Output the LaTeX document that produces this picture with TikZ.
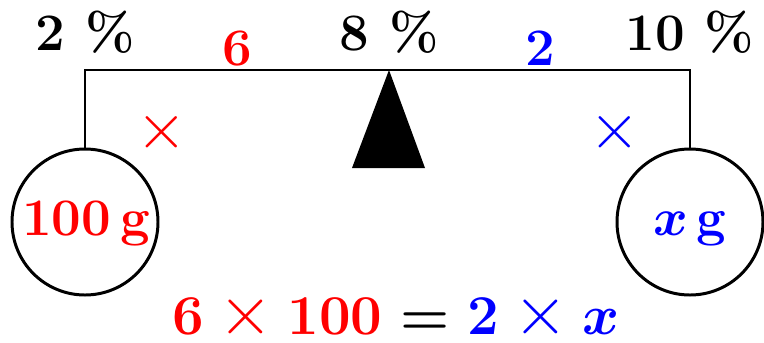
\RequirePackage{fix-cm}
\documentclass[tikz,border=0pt]{standalone}
\usepackage{amsmath, amssymb}
\usepackage{xcolor}
\usepackage{tikz}
\usetikzlibrary{arrows.meta, positioning, calc}

\newcommand{\bigtimes}{\mathbin{\mbox{\fontsize{40}{44}\selectfont\unboldmath$\times$}}}

\tikzset{
    big/.style={font=\fontsize{30}{36}\selectfont\bfseries\boldmath},
    pct/.style={big, anchor=base},
    weight/.style={draw, circle, line width=1.7pt, minimum size=29.2mm, inner sep=0pt, big},
}

\begin{document}
\begin{tikzpicture}[x=0.2mm, y=-0.2mm, line width=1.7pt]
    \useasboundingbox (0, 0) rectangle (764, 342);

    \coordinate (beamL) at (85, 70);
    \coordinate (beamR) at (690, 70);
    \coordinate (pivot) at (389, 70);

    \node[weight] (left) at (85, 222) {};
    \node[weight] (right) at (690, 222) {};
    \node[big, red, anchor=base] (lm) at (86, 235) {100\,g};
    \node[big, blue, anchor=base] (rm) at (690, 235) {$x$\,g};

    \draw (left.north) -- (beamL) -- (beamR) -- (right.north);
    \fill (pivot) -- (425, 168) -- (352, 168) -- cycle;

    \node[pct] (p2) at (85, 50) {2 \%};
    \node[pct] (p8) at (389, 50) {8 \%};
    \node[pct] (p10) at (690, 50) {10 \%};

    \node[pct, red] (d6) at (237, 65) {6};
    \node[pct, blue] (d2) at (540, 65) {2};
    \node[red, font=\fontsize{37}{40}\selectfont] (tl) at (162, 132) {$\times$};
    \node[blue, font=\fontsize{37}{40}\selectfont] (tr) at (615, 132) {$\times$};

    \node[pct, inner sep=0pt, font=\fontsize{32}{38}\selectfont\bfseries\boldmath] (eq) at (396, 334)
        {$\color{red}6\bigtimes100\color{black}=\color{blue}2\bigtimes x$};
\end{tikzpicture}
\end{document}
